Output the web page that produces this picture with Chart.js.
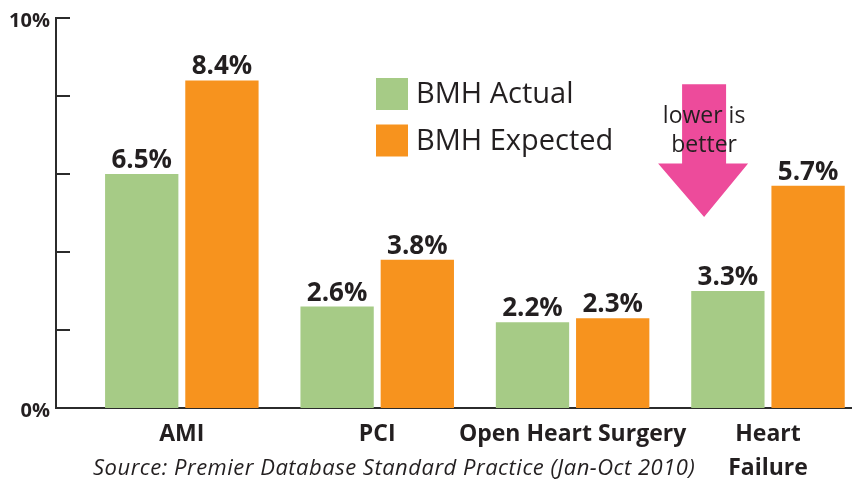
<!DOCTYPE html>
<html>
<head>
<meta charset="utf-8">
<script src="https://cdn.jsdelivr.net/npm/chart.js@4/dist/chart.umd.min.js"></script>
<style>
  body { margin: 0; background: #fff; }
  canvas { display: block; }
</style>
</head>
<body>
<canvas id="chart" width="852" height="480"></canvas>
<script>
// data
var categories = ['AMI', 'PCI', 'Open Heart Surgery', 'Heart Failure'];
var tickLabels = ['AMI', 'PCI', 'Open Heart Surgery', ['Heart', 'Failure']];
// bar heights as they are drawn in the picture (two green bars sit lower than their printed value)
var actualBars = [6.0, 2.6, 2.2, 3.0];
var actualLabels = ['6.5%', '2.6%', '2.2%', '3.3%'];
var expectedBars = [8.4, 3.8, 2.3, 5.7];
var expectedLabels = ['8.4%', '3.8%', '2.3%', '5.7%'];
var yTicks = [0, 2, 4, 6, 8, 10];
var yTickLabels = { 0: '0%', 10: '10%' };

var GREEN = '#A6CB86';
var ORANGE = '#F7931E';
var PINK = '#ED4B9B';
var INK = '#231F20';
var AXIS = '#2B2B2B';
var FONT = '"Open Sans", "Noto Sans", sans-serif';

function points(arr) {
  return arr.map(function (v, i) { return { x: i, y: v }; });
}

// labels, inward ticks, legend, arrow and source line
var overlay = {
  id: 'overlay',
  afterDatasetsDraw: function (chart) {
    var ctx = chart.ctx;
    var yScale = chart.scales.y;
    var area = chart.chartArea;

    // tick marks pointing into the plot
    ctx.save();
    ctx.strokeStyle = AXIS;
    ctx.lineWidth = 2;
    yTicks.forEach(function (t) {
      var y = Math.round(yScale.getPixelForValue(t));
      ctx.beginPath();
      ctx.moveTo(area.left, y);
      ctx.lineTo(area.left + 14, y);
      ctx.stroke();
    });
    ctx.restore();

    // value labels above bars
    var texts = [actualLabels, expectedLabels];
    ctx.save();
    ctx.fillStyle = INK;
    ctx.font = 'bold 26px ' + FONT;
    ctx.textAlign = 'center';
    ctx.textBaseline = 'alphabetic';
    chart.data.datasets.forEach(function (ds, di) {
      chart.getDatasetMeta(di).data.forEach(function (bar, i) {
        var p = bar.getProps(['x', 'y'], true);
        ctx.fillText(texts[di][i], p.x, p.y - 6);
      });
    });
    ctx.restore();
  },
  afterDraw: function (chart) {
    var ctx = chart.ctx;
    var xScale = chart.scales.x;
    var yScale = chart.scales.y;

    // legend
    ctx.save();
    ctx.font = '29px ' + FONT;
    ctx.textBaseline = 'middle';
    chart.data.datasets.forEach(function (ds, i) {
      var top = 78 + i * 46.5;
      ctx.fillStyle = ds.backgroundColor;
      ctx.fillRect(376, top, 32, 32);
      ctx.fillStyle = INK;
      ctx.fillText(ds.label, 416, top + 17);
    });
    ctx.restore();

    // "lower is better" arrow
    var cx = xScale.getPixelForValue(2.673);
    var top = yScale.getPixelForValue(8.3);
    var neck = yScale.getPixelForValue(6.27);
    var tip = yScale.getPixelForValue(4.9);
    ctx.save();
    ctx.fillStyle = PINK;
    ctx.beginPath();
    ctx.moveTo(cx - 22, top);
    ctx.lineTo(cx + 22, top);
    ctx.lineTo(cx + 22, neck);
    ctx.lineTo(cx + 44, neck);
    ctx.lineTo(cx, tip);
    ctx.lineTo(cx - 46, neck);
    ctx.lineTo(cx - 22, neck);
    ctx.closePath();
    ctx.fill();
    ctx.fillStyle = INK;
    ctx.font = '23px ' + FONT;
    ctx.textAlign = 'center';
    ctx.textBaseline = 'alphabetic';
    ctx.fillText('lower is', cx, 123);
    ctx.fillText('better', cx, 152);
    ctx.restore();

    // source line
    ctx.save();
    ctx.fillStyle = INK;
    ctx.font = 'italic 22px ' + FONT;
    ctx.letterSpacing = '0.5px';
    ctx.textBaseline = 'alphabetic';
    ctx.fillText('Source: Premier Database Standard Practice (Jan-Oct 2010)', 93, 475);
    ctx.restore();
  }
};

new Chart(document.getElementById('chart'), {
  type: 'bar',
  data: {
    datasets: [
      { label: 'BMH Actual', data: points(actualBars), backgroundColor: GREEN },
      { label: 'BMH Expected', data: points(expectedBars), backgroundColor: ORANGE }
    ]
  },
  options: {
    responsive: false,
    animation: false,
    layout: { padding: { top: 18, left: 0, right: 0, bottom: 0 } },
    categoryPercentage: 0.821,
    barPercentage: 0.914,
    plugins: { legend: { display: false }, tooltip: { enabled: false } },
    scales: {
      x: {
        type: 'linear',
        offset: false,
        min: -0.644,
        max: 3.43,
        afterBuildTicks: function (scale) {
          scale.ticks = categories.map(function (c, i) { return { value: i }; });
        },
        afterFit: function (scale) { scale.height = 72; },
        grid: { display: false, drawTicks: false, offset: false },
        border: { display: true, color: AXIS, width: 2 },
        ticks: {
          padding: 9,
          color: INK,
          font: { family: FONT, size: 23, weight: 'bold', lineHeight: 1.5 },
          maxRotation: 0,
          autoSkip: false,
          callback: function (v) { return tickLabels[v]; }
        }
      },
      y: {
        min: 0,
        max: 10,
        afterBuildTicks: function (scale) {
          scale.ticks = yTicks.map(function (v) { return { value: v }; });
        },
        afterFit: function (scale) { scale.width = 56; },
        grid: { display: false, drawTicks: false },
        border: { display: true, color: AXIS, width: 2 },
        ticks: {
          padding: 6,
          labelOffset: 3,
          color: INK,
          font: { family: FONT, size: 20, weight: 'bold' },
          callback: function (v) { return yTickLabels[v] || ''; }
        }
      }
    }
  },
  plugins: [overlay]
});
</script>
</body>
</html>
